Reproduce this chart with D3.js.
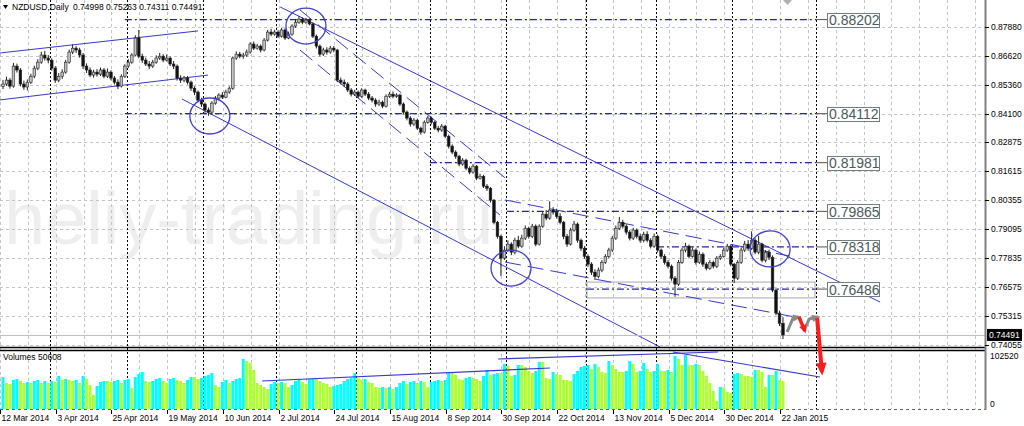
<!DOCTYPE html>
<html><head><meta charset="utf-8">
<script src="https://cdn.jsdelivr.net/npm/d3@7"></script>
<style>body{margin:0;background:#fff;overflow:hidden}svg{display:block;font-family:"Liberation Sans",Arial,sans-serif}</style>
</head><body><svg id="c" width="1024" height="426"></svg>
<script>
// ---------------- DATA ----------------
const firstOpen = 0.8530;
const closes = [0.8540,0.8557,0.8531,0.8618,0.8601,0.8540,0.8527,0.8548,0.8574,0.8609,
0.8635,0.8666,0.8653,0.8644,0.8609,0.8557,0.8574,0.8592,0.8635,0.8679,
0.8696,0.8688,0.8666,0.8618,0.8601,0.8579,0.8592,0.8583,0.8601,0.8574,
0.8592,0.8566,0.8548,0.8531,0.8574,0.8618,0.8635,0.8666,0.8740,0.8661,
0.8644,0.8627,0.8618,0.8635,0.8653,0.8661,0.8644,0.8653,0.8627,0.8618,
0.8566,0.8557,0.8566,0.8548,0.8522,0.8505,0.8470,0.8453,0.8427,0.8418,
0.8457,0.8479,0.8492,0.8483,0.8505,0.8522,0.8653,0.8670,0.8661,0.8666,
0.8679,0.8714,0.8696,0.8705,0.8688,0.8731,0.8766,0.8757,0.8766,0.8748,
0.8775,0.8740,0.8757,0.8792,0.8809,0.8822,0.8809,0.8818,0.8801,0.8748,
0.8705,0.8670,0.8688,0.8679,0.8696,0.8688,0.8557,0.8548,0.8540,0.8514,
0.8496,0.8505,0.8487,0.8514,0.8496,0.8479,0.8470,0.8453,0.8461,0.8444,
0.8487,0.8496,0.8487,0.8492,0.8453,0.8418,0.8392,0.8366,0.8383,0.8348,
0.8331,0.8374,0.8392,0.8374,0.8348,0.8340,0.8357,0.8313,0.8270,0.8244,
0.8226,0.8192,0.8209,0.8174,0.8157,0.8183,0.8131,0.8139,0.8096,0.8087,
0.8035,0.7939,0.7878,0.7783,0.7818,0.7844,0.7809,0.7861,0.7835,0.7870,
0.7913,0.7878,0.7922,0.7844,0.7922,0.7974,0.7957,0.7992,0.7983,0.7965,
0.7939,0.7878,0.7844,0.7905,0.7931,0.7861,0.7826,0.7791,0.7757,0.7722,
0.7704,0.7731,0.7765,0.7791,0.7818,0.7870,0.7913,0.7939,0.7922,0.7896,
0.7870,0.7905,0.7878,0.7861,0.7887,0.7861,0.7835,0.7878,0.7818,0.7791,
0.7765,0.7748,0.7696,0.7670,0.7765,0.7818,0.7835,0.7791,0.7818,0.7765,
0.7800,0.7757,0.7739,0.7765,0.7748,0.7783,0.7791,0.7818,0.7835,0.7757,
0.7696,0.7765,0.7818,0.7844,0.7826,0.7861,0.7809,0.7844,0.7774,0.7809,
0.7787,0.7644,0.7544,0.74998,0.74491];
const highs = [0.8558,0.8572,0.8566,0.8632,0.8629,0.8610,0.8555,0.8560,0.8585,0.8620,
0.8648,0.8680,0.8684,0.8666,0.8652,0.8618,0.8588,0.8604,0.8645,0.8690,
0.8712,0.8705,0.8698,0.8675,0.8630,0.8612,0.8602,0.8605,0.8612,0.8610,
0.8608,0.8600,0.8575,0.8560,0.8582,0.8626,0.8648,0.8674,0.8752,0.8775,
0.8672,0.8655,0.8640,0.8645,0.8665,0.8675,0.8670,0.8668,0.8660,0.8640,
0.8625,0.8578,0.8575,0.8575,0.8555,0.8530,0.8512,0.8480,0.8460,0.8438,
0.8465,0.8488,0.8500,0.8505,0.8515,0.8530,0.8660,0.8682,0.8680,0.8676,
0.8690,0.8722,0.8725,0.8715,0.8712,0.8740,0.8775,0.8780,0.8776,0.8774,
0.8785,0.8782,0.8768,0.8800,0.8822,0.8836,0.8830,0.8828,0.8825,0.8808,
0.8755,0.8712,0.8698,0.8700,0.8706,0.8705,0.8692,0.8568,0.8560,0.8548,
0.8522,0.8515,0.8512,0.8522,0.8520,0.8505,0.8488,0.8478,0.8472,0.8468,
0.8495,0.8505,0.8508,0.8500,0.8498,0.8460,0.8425,0.8400,0.8392,0.8390,
0.8355,0.8382,0.8402,0.8398,0.8380,0.8358,0.8366,0.8362,0.8320,0.8278,
0.8252,0.8232,0.8218,0.8215,0.8182,0.8192,0.8188,0.8150,0.8145,0.8105,
0.8092,0.8040,0.7945,0.7885,0.7835,0.7860,0.7852,0.7872,0.7880,0.7885,
0.7925,0.7920,0.7932,0.7930,0.7930,0.7985,0.7992,0.8030,0.8005,0.7998,
0.7978,0.7945,0.7888,0.7915,0.7945,0.7938,0.7868,0.7835,0.7800,0.7765,
0.7735,0.7742,0.7775,0.7800,0.7828,0.7880,0.7925,0.7962,0.7950,0.7930,
0.7905,0.7915,0.7912,0.7890,0.7898,0.7900,0.7870,0.7890,0.7885,0.7825,
0.7800,0.7775,0.7755,0.7705,0.7775,0.7828,0.7850,0.7842,0.7830,0.7825,
0.7812,0.7808,0.7765,0.7775,0.7772,0.7792,0.7800,0.7828,0.7845,0.7842,
0.7762,0.7775,0.7830,0.7858,0.7862,0.7900,0.7870,0.7880,0.7850,0.7818,
0.7820,0.7795,0.7652,0.7555,0.75263];
const lows = [0.8518,0.8532,0.8520,0.8524,0.8590,0.8530,0.8515,0.8512,0.8540,0.8565,
0.8600,0.8628,0.8642,0.8630,0.8598,0.8545,0.8548,0.8562,0.8585,0.8628,
0.8670,0.8675,0.8655,0.8605,0.8588,0.8570,0.8568,0.8572,0.8575,0.8565,
0.8566,0.8556,0.8538,0.8518,0.8525,0.8566,0.8610,0.8628,0.8660,0.8652,
0.8632,0.8618,0.8605,0.8610,0.8628,0.8645,0.8635,0.8638,0.8618,0.8605,
0.8555,0.8545,0.8548,0.8538,0.8510,0.8492,0.8460,0.8440,0.8415,0.8402,
0.8408,0.8450,0.8470,0.8475,0.8478,0.8498,0.8515,0.8645,0.8652,0.8650,
0.8658,0.8672,0.8688,0.8690,0.8678,0.8682,0.8725,0.8748,0.8750,0.8740,
0.8742,0.8732,0.8735,0.8750,0.8785,0.8802,0.8800,0.8802,0.8795,0.8740,
0.8695,0.8660,0.8662,0.8668,0.8672,0.8678,0.8548,0.8538,0.8528,0.8505,
0.8486,0.8488,0.8478,0.8480,0.8488,0.8470,0.8460,0.8442,0.8445,0.8435,
0.8438,0.8480,0.8478,0.8480,0.8445,0.8408,0.8382,0.8355,0.8358,0.8340,
0.8320,0.8325,0.8368,0.8365,0.8340,0.8330,0.8332,0.8305,0.8260,0.8235,
0.8215,0.8182,0.8185,0.8165,0.8148,0.8150,0.8122,0.8125,0.8088,0.8075,
0.8025,0.7930,0.7868,0.7705,0.7775,0.7810,0.7796,0.7800,0.7826,0.7828,
0.7862,0.7868,0.7870,0.7835,0.7838,0.7915,0.7948,0.7950,0.7972,0.7955,
0.7930,0.7865,0.7832,0.7838,0.7898,0.7850,0.7815,0.7780,0.7745,0.7710,
0.7688,0.7695,0.7722,0.7758,0.7782,0.7810,0.7862,0.7905,0.7912,0.7885,
0.7860,0.7862,0.7868,0.7850,0.7852,0.7852,0.7825,0.7828,0.7808,0.7780,
0.7755,0.7738,0.7685,0.7615,0.7662,0.7758,0.7808,0.7782,0.7785,0.7755,
0.7758,0.7745,0.7730,0.7732,0.7738,0.7740,0.7775,0.7785,0.7810,0.7748,
0.7675,0.7688,0.7758,0.7810,0.7815,0.7818,0.7800,0.7800,0.7765,0.7765,
0.7775,0.7635,0.7535,0.7488,0.74311];
const volumes = [57600,46800,45000,52200,54000,50400,46800,48600,46800,50400,
52200,46800,50400,46800,50400,48600,59400,52200,54000,52200,
50400,52200,46800,59400,54000,43200,25200,41400,48600,50400,
50400,48600,50400,52200,46800,52200,54000,37800,57600,63000,
66600,50400,48600,50400,54000,55800,50400,46800,54000,55800,
52200,50400,46800,52200,57600,57600,54000,55800,59400,61200,
64800,43200,39600,48600,52200,46800,50400,54000,55800,90000,
86400,82800,70200,46800,43200,39600,36000,45000,48600,46800,
48600,46800,39600,43200,50400,52200,48600,45000,54000,55800,
54000,50400,46800,45000,39600,41400,43200,45000,50400,54000,
55800,64800,55800,52200,54000,48600,46800,39600,37800,39600,
37800,39600,36000,39600,46800,50400,45000,48600,50400,46800,
50400,48600,39600,48600,50400,52200,50400,52200,64800,64800,
61200,54000,52200,55800,57600,55800,54000,50400,59400,70200,
61200,63000,64800,64800,81000,77400,59400,61200,79200,79200,
75600,68400,64800,68400,84600,84600,55800,54000,66600,63000,
61200,52200,52200,50400,63000,68400,75600,77400,79200,72000,
81000,75600,66600,64800,86400,79200,72000,66600,66600,68400,
86400,81000,66600,68400,82800,72000,66600,68400,81000,68400,
68400,70200,66600,95400,90000,79200,97200,79200,79200,81000,
79200,68400,59400,46800,32400,14400,39600,39000,30600,28800,
63000,64800,63000,59400,59400,57600,70200,70200,66600,39600,
61200,61200,68400,52200,50608];
const dateLabels = ["12 Mar 2014","3 Apr 2014","25 Apr 2014","19 May 2014","10 Jun 2014","2 Jul 2014","24 Jul 2014","15 Aug 2014","8 Sep 2014","30 Sep 2014","22 Oct 2014","13 Nov 2014","5 Dec 2014","30 Dec 2014","22 Jan 2015"];
const dateLabelBars = [0,16,32,48,64,80,96,112,128,144,160,176,192,208,224];
const priceTicks = [0.87880,0.86620,0.85360,0.84100,0.82875,0.81615,0.80355,0.79095,0.77835,0.76575,0.75315,0.74055];
const volumeTicks = [102520,0];
const separatorBars = [13.5,35.5,57.5,78.5,101.5,122.5,144.5,167.5,187.5,209.5,233.5];
const levelValues = [0.88202,0.84112,0.81981,0.79865,0.78318,0.76486];
const levelStartBars = [35,35,122.6,144.7,187.8,167.7];
const levelEndBar = 233.5;
const rectZone = [167.7,0.7679,233.2,0.7610];
const solidLines = [[-0.9,0.8675,56,0.8771],[-0.9,0.8471,58.9,0.8579],[51.4,0.8475,188.7,0.7397],[79.6,0.8875,251.9,0.7592]];
const dashedLines = [[85.3,0.8862,144.2,0.8132],[85.3,0.8688,142.7,0.7971],[144.2,0.8036,226,0.7792],[144.2,0.7766,228.9,0.7523]];
const volumeLines = [[74.4,50360,157.1,73740],[142.2,89930,205.3,102520],[192.4,102520,234.6,57555]];
const circles = [[59.4,0.8401],[87,0.8792],[145.9,0.7740],[220.3,0.7823]];
const grayArrows = [[[225.2,0.7462],[226.9,0.7523],[228.6,0.7527]],[[230.3,0.7475],[231.5,0.7518],[234.1,0.7527]]];
const redArrows = [[[228.6,0.7527],[230.3,0.7466]],[[233.8,0.7523],[235.2,0.7288]]];
const lastPrice = 0.74491;
const headerSymbol = "NZDUSD,Daily";
const headerValues = "0.74998 0.75263 0.74311 0.74491";
const watermark = "heliy-trading.ru";

// ---------------- SCALES ----------------
const svg = d3.select('#c');
const PR = 985;
const x = d3.scaleLinear().domain([0,282]).range([3,3+282*3.482]);
const y = d3.scaleLinear().domain([0.73967,0.89054]).range([347,0]);
const yv = d3.scaleLinear().domain([0,102520]).range([409,352]);
const N = closes.length;
const opens = closes.map((c,i)=> i===0 ? firstOpen : closes[i-1]);

svg.append('rect').attr('width',1024).attr('height',426).attr('fill','#fff');
const defs = svg.append('defs');
defs.append('clipPath').attr('id','pc').append('rect').attr('x',0).attr('y',0).attr('width',PR).attr('height',347);
defs.append('clipPath').attr('id','vc').append('rect').attr('x',0).attr('y',351).attr('width',PR).attr('height',58);

// watermark
svg.append('text').attr('x',4).attr('y',244).attr('font-size',74).attr('fill','#eeeeee')
  .attr('font-family','"Liberation Sans",Arial,sans-serif').text(watermark);

// grid
const grid = svg.append('g').attr('stroke','#c4c4c4').attr('stroke-width',1).attr('stroke-dasharray','3,3');
priceTicks.forEach(p=>{grid.append('line').attr('x1',0).attr('x2',PR).attr('y1',Math.round(y(p))+0.5).attr('y2',Math.round(y(p))+0.5);});
for(let b=0;b<=280;b+=8){const gx=Math.round(x(b)-3)+0.5; if(gx<PR) grid.append('line').attr('x1',gx).attr('x2',gx).attr('y1',0).attr('y2',409);}
grid.append('line').attr('x1',0).attr('x2',PR).attr('y1',409.5).attr('y2',409.5).attr('stroke','#606060');

// separators
const sep = svg.append('g').attr('stroke','#000').attr('stroke-width',1).attr('stroke-dasharray','2,2');
separatorBars.forEach(b=>{const sx=Math.round(x(b))+0.5; sep.append('line').attr('x1',sx).attr('x2',sx).attr('y1',0).attr('y2',409);});

// price panel objects
const pg = svg.append('g').attr('clip-path','url(#pc)');
levelValues.forEach((v,k)=>{
  pg.append('line').attr('x1',x(levelStartBars[k])).attr('x2',x(levelEndBar)).attr('y1',y(v)).attr('y2',y(v))
    .attr('stroke','#2222aa').attr('stroke-width',1.2).attr('stroke-dasharray','7,3,2,3');
});
pg.append('rect').attr('x',x(rectZone[0])).attr('y',y(rectZone[1])).attr('width',x(rectZone[2])-x(rectZone[0])).attr('height',y(rectZone[3])-y(rectZone[1]))
  .attr('fill','none').attr('stroke','#a8a8a8').attr('stroke-width',1);
solidLines.forEach(d=>pg.append('line').attr('x1',x(d[0])).attr('y1',y(d[1])).attr('x2',x(d[2])).attr('y2',y(d[3])).attr('stroke','#3838cc').attr('stroke-width',1));
dashedLines.forEach(d=>pg.append('line').attr('x1',x(d[0])).attr('y1',y(d[1])).attr('x2',x(d[2])).attr('y2',y(d[3])).attr('stroke','#3838cc').attr('stroke-width',1).attr('stroke-dasharray','16,7'));

pg.append('line').attr('x1',0).attr('x2',PR).attr('y1',Math.round(y(lastPrice))+0.5).attr('y2',Math.round(y(lastPrice))+0.5).attr('stroke','#c0c0c0');

// candles
const cg = pg.append('g');
for(let i=0;i<N;i++){
  const cx = x(i), o=opens[i], c=closes[i];
  cg.append('line').attr('x1',cx).attr('x2',cx).attr('y1',y(highs[i])).attr('y2',y(lows[i])).attr('stroke','#222').attr('stroke-width',1);
  const top=y(Math.max(o,c)), bot=y(Math.min(o,c));
  cg.append('rect').attr('x',cx-1.3).attr('width',2.6).attr('y',top).attr('height',Math.max(0.8,bot-top))
    .attr('fill', c>=o ? '#c4c4c4' : '#111111').attr('stroke','#222').attr('stroke-width',0.6);
}
circles.forEach(d=>pg.append('ellipse').attr('cx',x(d[0])).attr('cy',y(d[1])).attr('rx',20).attr('ry',18)
  .attr('fill','none').attr('stroke','#4040d0').attr('stroke-width',1.3));

// volume panel
const vg = svg.append('g').attr('clip-path','url(#vc)');
for(let i=0;i<N;i++){
  const up = i===0 || volumes[i]>volumes[i-1];
  vg.append('rect').attr('x',x(i)-1.5).attr('width',3).attr('y',yv(volumes[i])).attr('height',yv(0)-yv(volumes[i]))
    .attr('fill', up ? '#00ffff' : '#adff2f');
}
volumeLines.forEach(d=>vg.append('line').attr('x1',x(d[0])).attr('y1',yv(d[1])).attr('x2',x(d[2])).attr('y2',yv(d[3])).attr('stroke','#3838cc').attr('stroke-width',1.2));

// panel borders
svg.append('line').attr('x1',0).attr('x2',PR).attr('y1',347.5).attr('y2',347.5).attr('stroke','#000').attr('stroke-width',1.5);
svg.append('line').attr('x1',0).attr('x2',PR).attr('y1',350.5).attr('y2',350.5).attr('stroke','#000').attr('stroke-width',1.5);
svg.append('line').attr('x1',PR+0.5).attr('x2',PR+0.5).attr('y1',0).attr('y2',410).attr('stroke','#808080').attr('stroke-width',2);

// level label boxes
levelValues.forEach(v=>{
  const ly=y(v);
  svg.append('line').attr('x1',x(levelEndBar)).attr('x2',827).attr('y1',ly).attr('y2',ly).attr('stroke','#505050').attr('stroke-width',1);
  svg.append('rect').attr('x',827.5).attr('y',Math.round(ly-7)+0.5).attr('width',52).attr('height',14).attr('fill','#fff').attr('stroke','#6f7f7f');
  svg.append('text').attr('x',829).attr('y',ly+5.5).attr('font-size',14).attr('fill','#4a5a5a').text(v.toFixed(5));
});

// arrows
const lineGen = d3.line().x(d=>x(d[0])).y(d=>y(d[1]));
function head(pts,color,size){
  const a=pts[pts.length-2], b=pts[pts.length-1];
  const ax=x(a[0]),ay=y(a[1]),bx=x(b[0]),by=y(b[1]);
  const ang=Math.atan2(by-ay,bx-ax);
  const p1=[bx+Math.cos(ang)*size*0.4,by+Math.sin(ang)*size*0.4];
  const l=[bx-Math.cos(ang)*size+Math.cos(ang+Math.PI/2)*size*0.6, by-Math.sin(ang)*size+Math.sin(ang+Math.PI/2)*size*0.6];
  const r=[bx-Math.cos(ang)*size-Math.cos(ang+Math.PI/2)*size*0.6, by-Math.sin(ang)*size-Math.sin(ang+Math.PI/2)*size*0.6];
  svg.append('polygon').attr('points',[p1,l,r].map(p=>p.join(',')).join(' ')).attr('fill',color);
}
grayArrows.forEach(a=>{svg.append('path').attr('d',lineGen(a)).attr('fill','none').attr('stroke','#8a8a8a').attr('stroke-width',3);head(a,'#8a8a8a',6);});
redArrows.forEach((a,k)=>{svg.append('path').attr('d',lineGen(a)).attr('fill','none').attr('stroke','#ff1c1c').attr('stroke-width',k?4:3.5);head(a,'#ff1c1c',k?9:6);});

svg.append('polygon').attr('points',[[783,0],[792,0],[787.5,5]].map(p=>p.join(',')).join(' ')).attr('fill','#b0b0b0');

// price axis
const ax = svg.append('g').attr('font-size',8.5).attr('fill','#000');
priceTicks.forEach(p=>{
  const ty=Math.round(y(p))+0.5;
  ax.append('line').attr('x1',PR).attr('x2',PR+4).attr('y1',ty).attr('y2',ty).attr('stroke','#000');
  ax.append('text').attr('x',991).attr('y',ty+2.5).text(p.toFixed(5));
});
svg.append('rect').attr('x',987).attr('y',y(lastPrice)-6).attr('width',35).attr('height',12).attr('fill','#000');
svg.append('text').attr('x',989).attr('y',y(lastPrice)+3.5).attr('font-size',8.5).attr('fill','#fff').text(lastPrice.toFixed(5));
volumeTicks.forEach(v=>{
  ax.append('text').attr('x',990).attr('y',v===0 ? 407 : 359).text(String(v));
});

// date axis
const dx = svg.append('g').attr('font-size',8.5).attr('fill','#000');
dateLabelBars.forEach((b,k)=>{
  const tx=Math.round(x(b)-3)+0.5;
  dx.append('line').attr('x1',tx).attr('x2',tx).attr('y1',410).attr('y2',414).attr('stroke','#000');
  dx.append('text').attr('x',tx+1).attr('y',421).text(dateLabels[k]);
});

// headers
svg.append('polygon').attr('points','3,5 8,5 5.5,9').attr('fill','#000');
svg.append('text').attr('x',12).attr('y',10).attr('font-size',8.5).text(headerSymbol);
svg.append('text').attr('x',73).attr('y',10).attr('font-size',8.5).text(headerValues);
svg.append('text').attr('x',3).attr('y',360).attr('font-size',8.5).text('Volumes ' + volumes[N-1]);
</script></body></html>
